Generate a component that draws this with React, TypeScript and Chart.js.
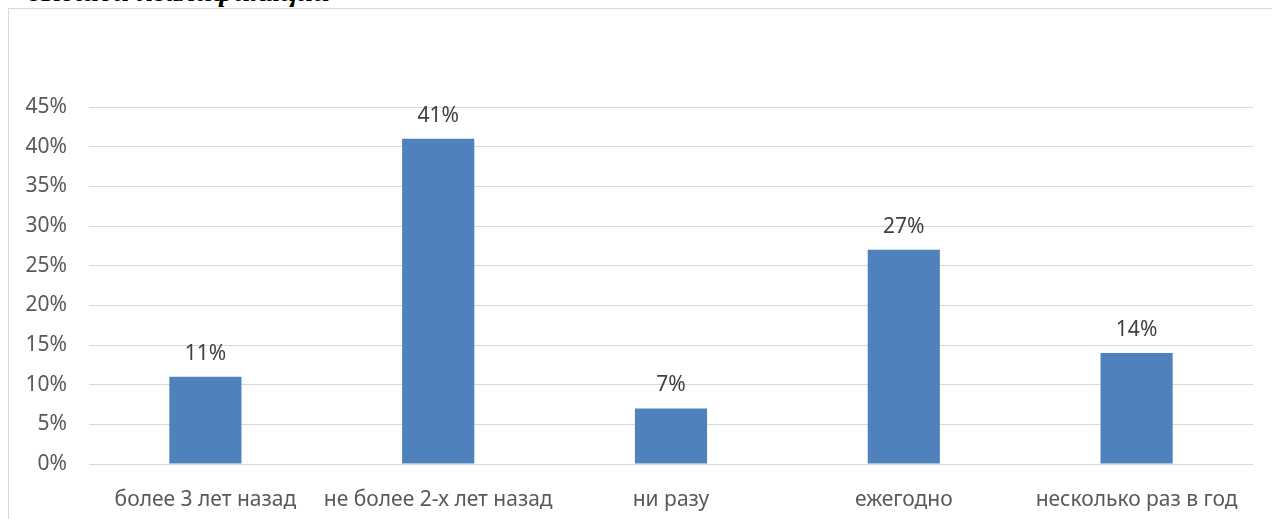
import React, { useEffect, useRef } from "react";
import { Chart, registerables } from "chart.js";

Chart.register(...registerables);

const categories = [
  "более 3 лет назад",
  "не более 2-х лет назад",
  "ни разу",
  "ежегодно",
  "несколько раз в год",
];
const values = [11, 41, 7, 27, 14];
const yTicks = [0, 5, 10, 15, 20, 25, 30, 35, 40, 45];
const headerText = "высшей квалификации";

const FONT = "'Noto Sans', sans-serif";

const dataLabels = {
  id: "dataLabels",
  afterDatasetsDraw(chart: any) {
    const ctx = chart.ctx;
    const meta = chart.getDatasetMeta(0);
    ctx.save();
    ctx.fillStyle = "#404040";
    ctx.font = `21px ${FONT}`;
    ctx.textAlign = "center";
    ctx.textBaseline = "middle";
    meta.data.forEach((bar: any, i: number) => {
      ctx.fillText(values[i] + "%", bar.x, bar.y - 23);
    });
    ctx.restore();
  },
};

export default function App() {
  const ref = useRef<HTMLCanvasElement>(null);
  useEffect(() => {
    if (!ref.current) return;
    const chart = new Chart(ref.current, {
      type: "bar",
      data: {
        labels: categories,
        datasets: [
          {
            data: values,
            backgroundColor: "#4f81bd",
            categoryPercentage: 1,
            barPercentage: 0.31,
          },
        ],
      },
      options: {
        animation: false,
        responsive: false,
        maintainAspectRatio: false,
        layout: { padding: { top: 107, right: 19, bottom: 0, left: 0 } },
        plugins: { legend: { display: false }, tooltip: { enabled: false } },
        scales: {
          x: {
            grid: { display: false },
            border: { display: false },
            ticks: {
              color: "#595959",
              font: { family: FONT, size: 21 },
              padding: 15,
              maxRotation: 0,
              autoSkip: false,
            },
            afterFit: (s: any) => {
              s.height = 55;
            },
          },
          y: {
            min: 0,
            max: 45,
            afterBuildTicks: (s: any) => {
              s.ticks = yTicks.map((v) => ({ value: v }));
            },
            grid: { color: "#d9d9d9", drawTicks: false, lineWidth: 1 },
            border: { display: false },
            ticks: {
              color: "#595959",
              font: { family: FONT, size: 21 },
              padding: 22,
              callback: (v: any) => v + "%",
            },
            afterFit: (s: any) => {
              s.width = 89;
            },
          },
        },
      },
      plugins: [dataLabels],
    });
    return () => chart.destroy();
  }, []);
  return (
    <div style={{ position: "fixed", left: 0, top: 0, width: 1272, height: 519, background: "#fff", overflow: "hidden" }}>
      <div
        style={{
          position: "absolute",
          right: 942,
          top: -24,
          fontFamily: "'Liberation Serif', serif",
          fontStyle: "italic",
          fontWeight: "bold",
          fontSize: 30,
          lineHeight: "30px",
          whiteSpace: "nowrap",
          color: "#000",
        }}
      >
        {headerText}
      </div>
      <div
        style={{
          position: "absolute",
          left: 8,
          top: 8,
          width: 1300,
          height: 600,
          border: "1px solid #d9d9d9",
          boxSizing: "border-box",
        }}
      />
      <canvas ref={ref} width={1272} height={519} style={{ position: "absolute", left: 0, top: 0 }} />
    </div>
  );
}
